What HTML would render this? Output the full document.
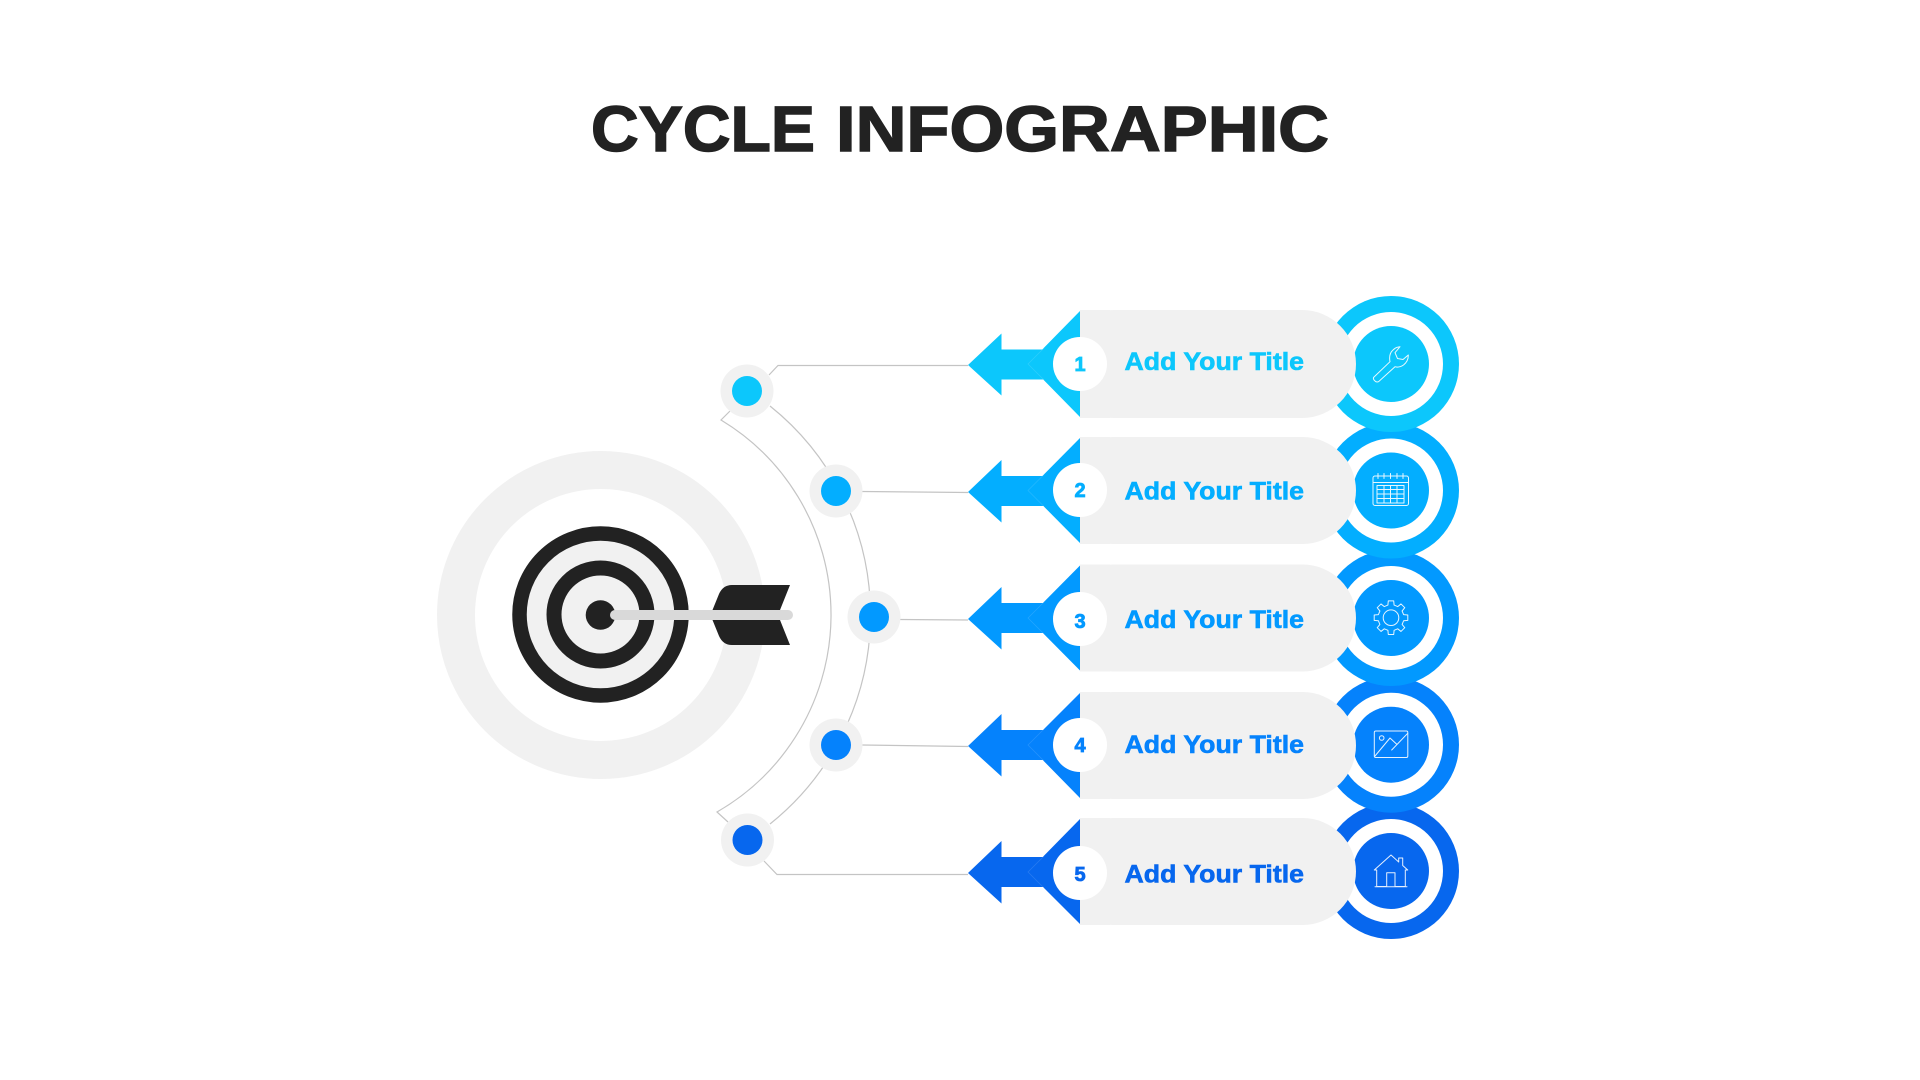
<!DOCTYPE html>
<html lang="en"><head><meta charset="utf-8"><title>Cycle Infographic</title>
<style>
html,body{margin:0;padding:0;background:#fff;width:1920px;height:1080px;overflow:hidden}
svg{display:block}
text{font-family:"Liberation Sans",sans-serif;font-weight:700}
.t{font-size:25px;stroke-width:.6px}
.n{font-size:20px;text-anchor:middle;stroke-width:.8px}
.ic{fill:none;stroke:#fff;stroke-width:1;stroke-linejoin:round;stroke-linecap:round;opacity:.9}
.ln{fill:none;stroke:#c4c4c4;stroke-width:1.2}
.f{fill:none;stroke:#fff;stroke-opacity:.14;stroke-width:.7}
</style></head><body>
<svg width="1920" height="1080" viewBox="0 0 1920 1080" xmlns="http://www.w3.org/2000/svg">
<text x="591" y="151" font-size="64" fill="#222" stroke="#222" stroke-width="1.4" textLength="224" lengthAdjust="spacingAndGlyphs">CYCLE</text>
<text x="836" y="151" font-size="64" fill="#222" stroke="#222" stroke-width="1.4" textLength="493" lengthAdjust="spacingAndGlyphs">INFOGRAPHIC</text>

<!-- target -->
<circle cx="601" cy="615" r="145" fill="none" stroke="#f1f1f1" stroke-width="38"/>
<circle cx="600.5" cy="614.5" r="81" fill="#f1f1f1" stroke="#222" stroke-width="14.5"/>
<circle cx="600.5" cy="614.5" r="46.5" fill="#f1f1f1" stroke="#222" stroke-width="15"/>
<circle cx="600.5" cy="615" r="14.8" fill="#222"/>
<path d="M790 585L778 615L790 645L732 645Q723 645 719 636L712.500 620V610L719 594Q723 585 732 585Z" fill="#222"/>
<rect x="610" y="610" width="183" height="10" rx="5" fill="#d9d9d9"/>

<!-- arcs and connectors -->
<path class="ln" d="M730 411L721 420A227.500 227.500 0 0 1 717 812L728 822"/>
<path class="ln" d="M770 406A267.600 267.600 0 0 1 770 824"/>
<path class="ln" d="M769 375L778 365.500H968"/>
<path class="ln" d="M862 491.500L968 492.500"/>
<path class="ln" d="M900 619.500L968 620"/>
<path class="ln" d="M862 745L968 746.500"/>
<path class="ln" d="M764 861L777 874.500H968"/>

<circle cx="747" cy="391" r="26.500" fill="#f1f1f1"/><circle cx="747" cy="391" r="15" fill="#0cc7fc"/>
<circle cx="836" cy="491" r="26.500" fill="#f1f1f1"/><circle cx="836" cy="491" r="15" fill="#03aeff"/>
<circle cx="874" cy="617" r="26.500" fill="#f1f1f1"/><circle cx="874" cy="617" r="15" fill="#0299ff"/>
<circle cx="836" cy="745" r="26.500" fill="#f1f1f1"/><circle cx="836" cy="745" r="15" fill="#0582fc"/>
<circle cx="747.500" cy="840" r="26.500" fill="#f1f1f1"/><circle cx="747.500" cy="840" r="15" fill="#0767ee"/>

<!-- rings, back to front -->
<circle cx="1391" cy="871" r="68" fill="#0767ee"/><circle cx="1391" cy="871" r="52" fill="#fff"/><circle cx="1391" cy="871" r="38" fill="#0767ee"/>
<circle cx="1391" cy="744.700" r="68" fill="#0582fc"/><circle cx="1391" cy="744.700" r="52" fill="#fff"/><circle cx="1391" cy="744.700" r="38" fill="#0582fc"/>
<circle cx="1391" cy="618" r="68" fill="#0299ff"/><circle cx="1391" cy="618" r="52" fill="#fff"/><circle cx="1391" cy="618" r="38" fill="#0299ff"/>
<circle cx="1391" cy="490.500" r="68" fill="#03aeff"/><circle cx="1391" cy="490.500" r="52" fill="#fff"/><circle cx="1391" cy="490.500" r="38" fill="#03aeff"/>
<circle cx="1391" cy="364" r="68" fill="#0cc7fc"/><circle cx="1391" cy="364" r="52" fill="#fff"/><circle cx="1391" cy="364" r="38" fill="#0cc7fc"/>

<!-- row 1 -->
<g>
<rect x="1060" y="310" width="296" height="108" rx="54" fill="#f1f1f1"/>
<path d="M968 365L1001.500 333.500V349.500H1044V379.500H1001.500V395.500Z" fill="#0cc7fc"/>
<path d="M1080 311L1028 364L1080 417Z" fill="#0cc7fc"/>
<path d="M1080 310V418H1110V310Z" fill="#f1f1f1"/>
<path class="f" d="M1044 348L1028 364L1044 380"/>
<circle cx="1080" cy="364" r="27" fill="#fff"/>
<text class="n" x="1080" y="371" fill="#0cc7fc" stroke="#0cc7fc">1</text>
<text class="t" x="1124.500" y="370" textLength="179.500" lengthAdjust="spacingAndGlyphs" fill="#0cc7fc" stroke="#0cc7fc">Add Your Title</text>
</g>
<!-- row 2 -->
<g>
<rect x="1060" y="437" width="296" height="107" rx="53.500" fill="#f1f1f1"/>
<path d="M968 492L1001.500 460V476H1044V506H1001.500V522.500Z" fill="#03aeff"/>
<path d="M1080 438L1028 490.500L1080 543Z" fill="#03aeff"/>
<path d="M1080 437V544H1110V437Z" fill="#f1f1f1"/>
<path class="f" d="M1044 474.500L1028 490.500L1044 506.500"/>
<circle cx="1080" cy="490" r="27" fill="#fff"/>
<text class="n" x="1080" y="497" fill="#03aeff" stroke="#03aeff">2</text>
<text class="t" x="1124.500" y="499.500" textLength="179.500" lengthAdjust="spacingAndGlyphs" fill="#03aeff" stroke="#03aeff">Add Your Title</text>
</g>
<!-- row 3 -->
<g>
<rect x="1060" y="564.500" width="296" height="107" rx="53.500" fill="#f1f1f1"/>
<path d="M968 619L1001.500 587V603H1044V633H1001.500V649.500Z" fill="#0299ff"/>
<path d="M1080 565.500L1028 618L1080 670.500Z" fill="#0299ff"/>
<path d="M1080 564.500V671.500H1110V564.500Z" fill="#f1f1f1"/>
<path class="f" d="M1044 602L1028 618L1044 634"/>
<circle cx="1080" cy="619" r="27" fill="#fff"/>
<text class="n" x="1080" y="628" fill="#0299ff" stroke="#0299ff">3</text>
<text class="t" x="1124.500" y="628" textLength="179.500" lengthAdjust="spacingAndGlyphs" fill="#0299ff" stroke="#0299ff">Add Your Title</text>
</g>
<!-- row 4 -->
<g>
<rect x="1060" y="692" width="296" height="107" rx="53.500" fill="#f1f1f1"/>
<path d="M968 746L1001.500 714V730H1044V760H1001.500V776.500Z" fill="#0582fc"/>
<path d="M1080 693L1028 745L1080 798Z" fill="#0582fc"/>
<path d="M1080 692V799H1110V692Z" fill="#f1f1f1"/>
<path class="f" d="M1044 729L1028 745L1044 761"/>
<circle cx="1080" cy="745" r="27" fill="#fff"/>
<text class="n" x="1080" y="752" fill="#0582fc" stroke="#0582fc">4</text>
<text class="t" x="1124.500" y="753" textLength="179.500" lengthAdjust="spacingAndGlyphs" fill="#0582fc" stroke="#0582fc">Add Your Title</text>
</g>
<!-- row 5 -->
<g>
<rect x="1060" y="818" width="296" height="107" rx="53.500" fill="#f1f1f1"/>
<path d="M968 873L1001.500 841V857H1044V887H1001.500V903.500Z" fill="#0767ee"/>
<path d="M1080 819L1028 872L1080 924Z" fill="#0767ee"/>
<path d="M1080 818V925H1110V818Z" fill="#f1f1f1"/>
<path class="f" d="M1044 856L1028 872L1044 888"/>
<circle cx="1080" cy="873" r="27" fill="#fff"/>
<text class="n" x="1080" y="881" fill="#0767ee" stroke="#0767ee">5</text>
<text class="t" x="1124.500" y="882.700" textLength="179.500" lengthAdjust="spacingAndGlyphs" fill="#0767ee" stroke="#0767ee">Add Your Title</text>
</g>

<!-- icons -->
<path class="ic" d="M1373.500 377.500L1390 361.700Q1388.500 354 1393 350Q1396 347 1400 346.700L1395 352.700L1397.500 358.500L1403 359.500L1408.300 355Q1408.500 361 1403.500 365Q1399 368 1395 366.700L1378.500 381.700Q1376.500 382.500 1375 381Q1373 379.500 1373.500 377.500Z"/>

<g class="ic">
<rect x="1373" y="476" width="35.500" height="29.500" rx="2"/>
<path d="M1373 482.500H1408.500M1378 473.500V478.500M1384 473.500V478.500M1390.500 473.500V478.500M1397 473.500V478.500M1403 473.500V478.500"/>
<rect x="1377" y="485.500" width="27" height="17.500"/>
<path d="M1377 489.500H1404M1377 494H1404M1377 498.500H1404M1384 485.500V503M1390.500 485.500V503M1397 485.500V503"/>
</g>

<g class="ic" transform="translate(1391 617.700)">
<path d="M12.600 -3.100L16.800 -2.700V2.700L12.600 3.100L11.100 6.700L13.750 10L10 13.750L6.700 11.100L3.100 12.600L2.700 16.800H-2.700L-3.100 12.600L-6.700 11.100L-10 13.750L-13.750 10L-11.100 6.700L-12.600 3.100L-16.800 2.700V-2.700L-12.600 -3.100L-11.100 -6.700L-13.750 -10L-10 -13.750L-6.700 -11.100L-3.100 -12.600L-2.700 -16.800H2.700L3.100 -12.600L6.700 -11.100L10 -13.750L13.750 -10L11.100 -6.700Z"/>
<circle r="7.800"/>
</g>

<g class="ic">
<rect x="1374.300" y="731" width="33.500" height="26.500" rx="1.500"/>
<circle cx="1381.700" cy="738" r="2.300"/>
<path d="M1375 756L1390 738L1397 744.500M1391.700 750L1407.700 733.300"/>
</g>

<path class="ic" d="M1374.300 870L1391 855L1398.700 862V858H1402.700V865.500L1407.700 870H1405.300V886.500H1395V872.700H1386.700V886.500H1376.700V870ZM1375 886.700H1407"/>
</svg>
</body></html>
